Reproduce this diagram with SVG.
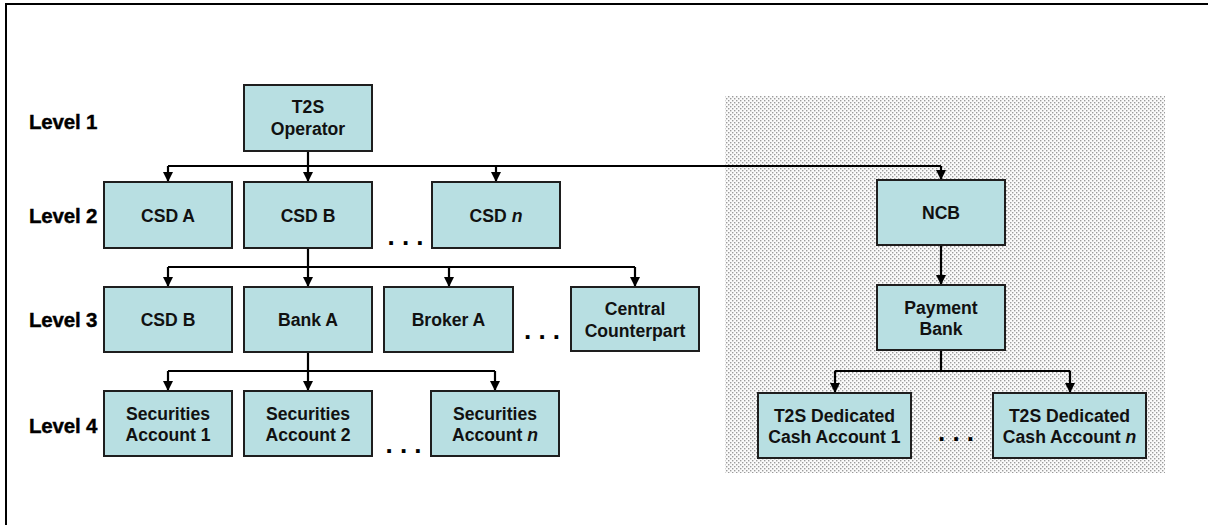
<svg xmlns="http://www.w3.org/2000/svg" width="1208" height="530" viewBox="0 0 1208 530">
<style>
.box{fill:#b8dfe2;stroke:#1e1e1e;stroke-width:2}
.t{font-family:"Liberation Sans",Arial,sans-serif;font-weight:bold;font-size:17.6px;fill:#111;text-anchor:middle}
.lvl{font-family:"Liberation Sans",Arial,sans-serif;font-weight:bold;font-size:20.5px;fill:#000;letter-spacing:-0.2px;stroke:#000;stroke-width:0.4}
.dots{font-family:"Liberation Sans",Arial,sans-serif;font-weight:bold;font-size:26px;fill:#000;text-anchor:middle}
.c{fill:none;stroke:#000;stroke-width:2.2;marker-end:url(#ah)}
.l{fill:none;stroke:#000;stroke-width:2.2}
</style>
<defs>
<pattern id="stip" width="4" height="4" patternUnits="userSpaceOnUse">
<rect width="4" height="4" fill="#fbfbfb"/>
<rect x="0" y="0" width="1.4" height="1.4" fill="#9c9c9c"/>
<rect x="2" y="2" width="1.4" height="1.4" fill="#9c9c9c"/>
</pattern>
<marker id="ah" markerUnits="userSpaceOnUse" markerWidth="12" markerHeight="12" refX="10" refY="5" orient="auto">
<path d="M0,0 L10,5 L0,10 Z" fill="#000"/>
</marker>
</defs>
<rect width="1208" height="530" fill="#fff"/>
<path d="M6,525 V4 H1208" fill="none" stroke="#000" stroke-width="2"/>
<rect id="cash-area" x="725" y="96" width="440" height="377" fill="url(#stip)"/>

<g id="level-labels">
<text class="lvl" x="29" y="129">Level 1</text>
<text class="lvl" x="29" y="223">Level 2</text>
<text class="lvl" x="29" y="327">Level 3</text>
<text class="lvl" x="29" y="433">Level 4</text>
</g>

<g id="connectors">
<path class="l" d="M308,151 V166 M168,166 H941"/>
<path class="c" d="M168,166 V182"/>
<path class="c" d="M308,166 V182"/>
<path class="c" d="M496,166 V182"/>
<path class="c" d="M941,166 V180"/>
<path class="l" d="M308,248 V267 M168,267 H635"/>
<path class="c" d="M168,267 V287"/>
<path class="c" d="M308,267 V287"/>
<path class="c" d="M449,267 V287"/>
<path class="c" d="M635,267 V287"/>
<path class="l" d="M308,352 V371 M168,371 H495"/>
<path class="c" d="M168,371 V391"/>
<path class="c" d="M308,371 V391"/>
<path class="c" d="M495,371 V391"/>
<path class="c" d="M941,245 V285"/>
<path class="l" d="M941,350 V371 M835,371 H1070"/>
<path class="c" d="M835,371 V393"/>
<path class="c" d="M1070,371 V393"/>
</g>

<g id="t2s-operator"><rect class="box" x="244" y="85" width="128" height="66"/><text class="t" x="308" y="113">T2S</text><text class="t" x="308" y="135">Operator</text></g>
<g id="csd-a"><rect class="box" x="104" y="182" width="128" height="66"/><text class="t" x="168" y="222">CSD A</text></g>
<g id="csd-b"><rect class="box" x="244" y="182" width="128" height="66"/><text class="t" x="308" y="222">CSD B</text></g>
<g id="csd-n"><rect class="box" x="432" y="182" width="128" height="66"/><text class="t" x="496" y="222">CSD <tspan font-style="italic">n</tspan></text></g>
<g id="ncb"><rect class="box" x="877" y="180" width="128" height="65"/><text class="t" x="941" y="219">NCB</text></g>

<g id="csd-b-l3"><rect class="box" x="104" y="287" width="128" height="65"/><text class="t" x="168" y="326">CSD B</text></g>
<g id="bank-a"><rect class="box" x="244" y="287" width="128" height="65"/><text class="t" x="308" y="326">Bank A</text></g>
<g id="broker-a"><rect class="box" x="384" y="287" width="129" height="65"/><text class="t" x="448.5" y="326">Broker A</text></g>
<g id="central-counterpart"><rect class="box" x="571" y="287" width="128" height="64"/><text class="t" x="635" y="315">Central</text><text class="t" x="635" y="337">Counterpart</text></g>
<g id="payment-bank"><rect class="box" x="877" y="285" width="128" height="65"/><text class="t" x="941" y="314">Payment</text><text class="t" x="941" y="335">Bank</text></g>

<g id="securities-account-1"><rect class="box" x="104" y="391" width="128" height="65"/><text class="t" x="168" y="420">Securities</text><text class="t" x="168" y="441">Account 1</text></g>
<g id="securities-account-2"><rect class="box" x="244" y="391" width="128" height="65"/><text class="t" x="308" y="420">Securities</text><text class="t" x="308" y="441">Account 2</text></g>
<g id="securities-account-n"><rect class="box" x="431" y="391" width="128" height="65"/><text class="t" x="495" y="420">Securities</text><text class="t" x="495" y="441">Account <tspan font-style="italic">n</tspan></text></g>
<g id="dca-1"><rect class="box" x="758" y="393" width="153" height="65"/><text class="t" x="834.5" y="422">T2S Dedicated</text><text class="t" x="834.5" y="443">Cash Account 1</text></g>
<g id="dca-n"><rect class="box" x="993" y="393" width="153" height="65"/><text class="t" x="1069.5" y="422">T2S Dedicated</text><text class="t" x="1069.5" y="443">Cash Account <tspan font-style="italic">n</tspan></text></g>

<g id="ellipses">
<text class="dots" x="405.5" y="245">. . .</text>
<text class="dots" x="542" y="339">. . .</text>
<text class="dots" x="403.5" y="453">. . .</text>
<text class="dots" x="956" y="441">. . .</text>
</g>
</svg>
